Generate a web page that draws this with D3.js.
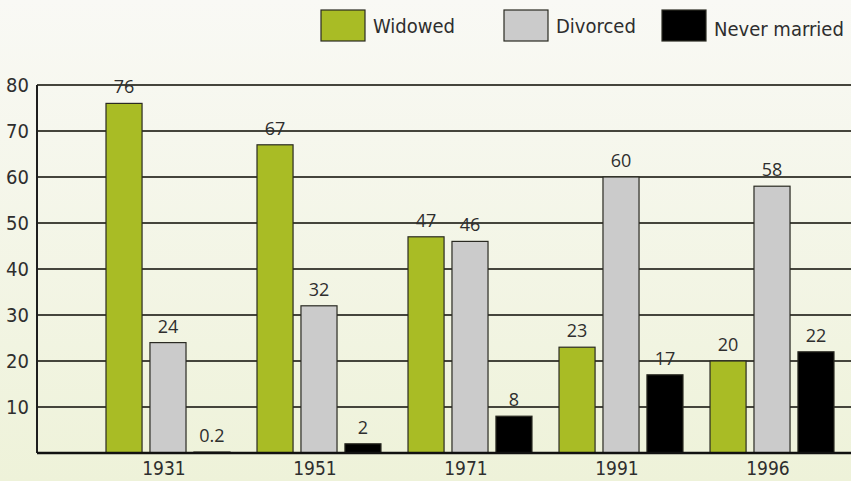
<!DOCTYPE html>
<html>
<head>
<meta charset="utf-8">
<script src="https://cdn.jsdelivr.net/npm/d3@7"></script>
<style>
  html, body { margin: 0; padding: 0; background: #f6f7ee; }
  svg { display: block; }
  .narrow { font-family: "Liberation Sans Narrow", "DejaVu Sans Condensed", "Roboto", sans-serif; font-stretch: condensed; fill: #2e2e2e; }
  .val { font-family: "Open Sans", "DejaVu Sans", sans-serif; fill: #2e2e2e; }
</style>
</head>
<body>
<div id="chart"></div>
<script>
// data
const years = ['1931', '1951', '1971', '1991', '1996'];
const seriesNames = ['Widowed', 'Divorced', 'Never married'];
const widowed = [76, 67, 47, 23, 20];
const divorced = [24, 32, 46, 60, 58];
const neverMarried = [0.2, 2, 8, 17, 22];
const yTicks = [10, 20, 30, 40, 50, 60, 70, 80];
const colors = ['#a9bc25', '#cbcbcb', '#000000'];

const width = 851, height = 481;
const margin = {left: 37, right: 0, top: 85, bottom: 28};
const drawArea = {width: width - margin.left - margin.right, height: height - margin.top - margin.bottom};

const svg = d3.select('#chart').append('svg').attr('width', width).attr('height', height);

// background gradient
const grad = svg.append('defs').append('linearGradient').attr('id', 'bg')
  .attr('x1', 0).attr('y1', 0).attr('x2', 0).attr('y2', 1);
grad.append('stop').attr('offset', '0%').attr('stop-color', '#f9f9f5');
grad.append('stop').attr('offset', '100%').attr('stop-color', '#eef2d9');
svg.append('rect').attr('width', width).attr('height', height).attr('fill', 'url(#bg)');

const rows = years.map((yr, i) => ({year: yr, values: [widowed[i], divorced[i], neverMarried[i]]}));

const x0 = d3.scaleBand().domain(years).range([106 - margin.left, 834 - margin.left]).paddingInner(0.179);
const x1 = d3.scaleBand().domain(seriesNames).range([0, x0.bandwidth()]).paddingInner(0.18);
const y = d3.scaleLinear().domain([0, 80]).range([drawArea.height, 0]);

const g = svg.append('g').attr('transform', 'translate(' + margin.left + ',' + margin.top + ')');

// grid
g.append('g').selectAll('line').data(yTicks).enter().append('line')
  .attr('x1', 0).attr('x2', drawArea.width)
  .attr('y1', d => y(d)).attr('y2', d => y(d))
  .attr('stroke', '#45453c').attr('stroke-width', 2);

// y labels
g.append('g').selectAll('text').data(yTicks).enter().append('text')
  .attr('class', 'narrow')
  .attr('x', -8).attr('y', d => y(d)).attr('dy', '0.35em')
  .attr('text-anchor', 'end').style('font-size', '20px')
  .text(d => d);

// bars
const groups = g.selectAll('.grp').data(rows).enter().append('g')
  .attr('class', 'grp').attr('transform', d => 'translate(' + x0(d.year) + ',0)');

groups.selectAll('rect').data(d => d.values.map((v, k) => ({key: seriesNames[k], value: v, k: k})))
  .enter().append('rect')
  .attr('x', d => x1(d.key)).attr('width', x1.bandwidth())
  .attr('y', d => y(d.value)).attr('height', d => y(0) - y(d.value))
  .attr('fill', d => colors[d.k])
  .attr('stroke', '#2a2a22').attr('stroke-width', 1.2);

groups.selectAll('text.val').data(d => d.values.map((v, k) => ({key: seriesNames[k], value: v})))
  .enter().append('text')
  .attr('class', 'val')
  .attr('x', d => x1(d.key) + x1.bandwidth() / 2)
  .attr('y', d => y(d.value) - 10)
  .attr('text-anchor', 'middle').style('font-size', '18px')
  .text(d => d.value);

// axes lines
g.append('line').attr('x1', 0).attr('x2', 0).attr('y1', y(80)).attr('y2', y(0))
  .attr('stroke', '#1e1e1e').attr('stroke-width', 2);
g.append('line').attr('x1', 0).attr('x2', drawArea.width).attr('y1', y(0)).attr('y2', y(0))
  .attr('stroke', '#111').attr('stroke-width', 2.5);

// x labels
g.append('g').selectAll('text').data(years).enter().append('text')
  .attr('class', 'narrow')
  .attr('x', d => x0(d) + x0.bandwidth() / 2 - 4)
  .attr('y', drawArea.height + 22)
  .attr('text-anchor', 'middle').style('font-size', '19px')
  .text(d => d);

// legend
const legendX = [321, 504, 662];
const legend = svg.append('g').selectAll('g').data(seriesNames).enter().append('g')
  .attr('transform', (d, i) => 'translate(' + legendX[i] + ',10)');
legend.append('rect').attr('width', 44).attr('height', 31)
  .attr('fill', (d, i) => colors[i]).attr('stroke', '#2a2a22').attr('stroke-width', 1.2);
legend.append('text').attr('class', 'narrow')
  .attr('x', 52).attr('y', (d, i) => i === 2 ? 26 : 23).style('font-size', '20px')
  .text(d => d);
</script>
</body>
</html>
